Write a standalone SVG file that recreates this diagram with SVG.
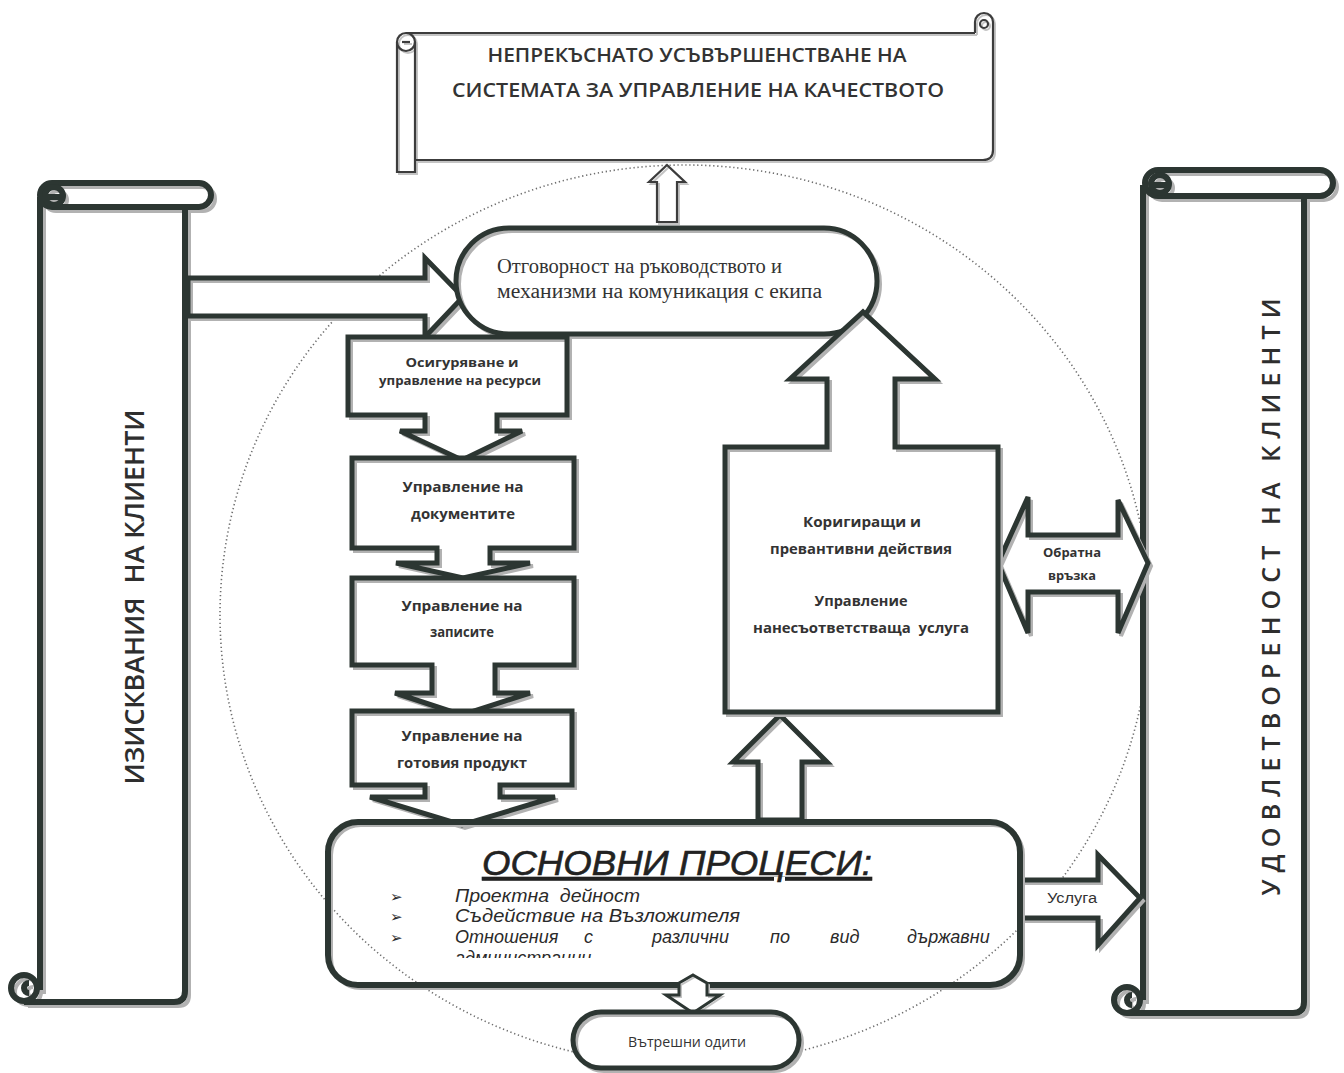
<svg xmlns="http://www.w3.org/2000/svg" width="1344" height="1073" viewBox="0 0 1344 1073">
<style>
.ln{fill:none;stroke:#2c3632;stroke-width:5;stroke-linejoin:miter}
.lnt{fill:none;stroke:#3c3c3c;stroke-width:2.2}
.sh{fill:none;stroke:#b2b2b2;stroke-width:4}
.sht{fill:none;stroke:#c4c4c4;stroke-width:2}
.fw{fill:#fff;stroke:none}
.dot{fill:none;stroke:#6e6e6e;stroke-width:1.6;stroke-dasharray:1.3 2.7}
.bx{font-family:"Open Sans","DejaVu Sans",sans-serif;font-weight:700;fill:#333;text-anchor:middle}
.hd{font-family:"Open Sans","DejaVu Sans",sans-serif;font-weight:600;fill:#333;text-anchor:middle;font-size:19px}
.sc{font-family:"Open Sans","DejaVu Sans",sans-serif;fill:#2e2e2e;text-anchor:middle}
.sf{font-family:"Liberation Serif","Times New Roman",serif;fill:#333;font-size:20px}
.it{font-family:"Liberation Sans",Arial,sans-serif;font-style:italic;fill:#2a2a2a;font-size:18px}
.bu{font-family:"DejaVu Sans",sans-serif;font-size:15px;fill:#2a2a2a}
</style>
<defs>
<clipPath id="clipLast"><rect x="330" y="826" width="690" height="132"/></clipPath>
<path id="pBox1" d="M348,337 H567 V415 H497 V431 H522 L462,460 L400,431 H425 V415 H348 Z"/>
<path id="pBox2" d="M352,458 H574 V548 H490 V563 H530 L463,578 L396,563 H437 V548 H352 Z"/>
<path id="pBox3" d="M352,578 H574 V665 H495 V693 H530 L462,715 L395,693 H432 V665 H352 Z"/>
<path id="pBox4" d="M352,711 H572 V785 H500 V797 H555 L462,825 L370,797 H425 V785 H352 Z"/>
<path id="pRight" d="M725,447 H827 V379 H790 L863,312 L935,379 H895 V447 H998 V712 H725 Z"/>
<rect id="pOval" x="456" y="228" width="421" height="106" rx="53"/>
<rect id="pMain" x="328" y="822" width="692" height="163" rx="30"/>
<rect id="pAudit" x="573" y="1012" width="226" height="56" rx="28"/>
<path id="aLeft" d="M188,278 H425 V258 L463,297 L425,337 V316 H188 Z"/>
<path id="aTop" d="M667,165 L685,182 H677 V222 H657 V182 H649 Z"/>
<path id="aDouble" d="M998,563 L1028,497 V535 H1118 V500 L1148,563 L1118,633 V592 H1028 V633 Z"/>
<path id="aUp" d="M758,820 V762 H733 L780,715 L827,762 H802 V820 Z"/>
<path id="aUsl" d="M1020,880 H1098 V855 L1140,898 L1098,945 V918 H1020 Z"/>
<path id="aDown" d="M693,975 L707,983 V995 H720 L693,1013 L666,995 H679 V983 Z"/>
<g id="gLeftScroll">
<rect x="40" y="183" width="171" height="24" rx="12"/>
<circle cx="54" cy="196" r="9"/>
<path d="M47,197 H60"/>
<path d="M40,197 V990 M185,207 V991 Q185,1002 174,1002 H24"/>
<circle cx="24" cy="988" r="13"/>
<path d="M29,983 A5,5 0 1 0 29,993"/>
</g>
<g id="gRightScroll">
<rect x="1145" y="170" width="188" height="26" rx="13"/>
<circle cx="1160" cy="184" r="9"/>
<path d="M1153,185 H1166"/>
<path d="M1143,185 V1000 M1304,196 V1002 Q1304,1013 1293,1013 H1127"/>
<circle cx="1127" cy="1000" r="13"/>
<path d="M1132,995 A5,5 0 1 0 1132,1005"/>
</g>
<g id="gTopScroll">
<path d="M406,33 H975 M993,22 V150 Q993,160 983,160 H415"/>
<path d="M975,33 V22 A9,9 0 0 1 993,22"/>
<circle cx="984" cy="24" r="4"/>
<path d="M397,42 V172 H415 V42"/>
<circle cx="406" cy="42" r="9"/>
<path d="M402,42 H410"/>
</g>
</defs>

<ellipse class="dot" cx="685" cy="615" rx="465" ry="450"/>

<g id="node-top-scroll">
<rect class="fw" x="397" y="33" width="596" height="127"/>
<use href="#gTopScroll" class="sht" transform="translate(2,2)"/>
<use href="#gTopScroll" class="lnt"/>
<text class="hd" x="697" y="62" textLength="419" lengthAdjust="spacingAndGlyphs">НЕПРЕКЪСНАТО УСЪВЪРШЕНСТВАНЕ НА</text>
<text class="hd" x="698" y="97" textLength="492" lengthAdjust="spacingAndGlyphs">СИСТЕМАТА ЗА УПРАВЛЕНИЕ НА КАЧЕСТВОТО</text>
</g>

<g id="node-left-scroll">
<rect class="fw" x="40" y="183" width="145" height="819"/>
<use href="#gLeftScroll" class="sh" transform="translate(4,4)"/>
<use href="#gLeftScroll" class="ln" style="stroke-width:6"/>
<text class="sc" xml:space="preserve" style="font-weight:600;font-size:27px" transform="translate(144,597) rotate(-90)" textLength="375" lengthAdjust="spacingAndGlyphs">ИЗИСКВАНИЯ  НА КЛИЕНТИ</text>
</g>

<g id="node-right-scroll">
<rect class="fw" x="1143" y="170" width="161" height="843"/>
<use href="#gRightScroll" class="sh" transform="translate(4,4)"/>
<use href="#gRightScroll" class="ln" style="stroke-width:6"/>
<text class="sc" style="font-weight:600;font-size:25px" transform="translate(1280,597) rotate(-90)" textLength="597" lengthAdjust="spacing">УДОВЛЕТВОРЕНОСТ НА КЛИЕНТИ</text>
</g>

<g id="connectors">
<g id="conn-left"><use href="#aLeft" class="fw"/><use href="#aLeft" class="sh" transform="translate(3,3)"/><use href="#aLeft" class="ln"/></g>
<g id="conn-top"><use href="#aTop" class="fw"/><use href="#aTop" class="sht" transform="translate(2,2)"/><use href="#aTop" class="lnt"/></g>
<g id="conn-up"><use href="#aUp" class="fw"/><use href="#aUp" class="sh" transform="translate(3,3)"/><use href="#aUp" class="ln"/></g>
<g id="conn-feedback"><use href="#aDouble" class="fw"/><use href="#aDouble" class="sh" transform="translate(3,3)"/><use href="#aDouble" class="ln"/>
<text class="bx" x="1072" y="557" style="font-size:12.5px" textLength="58" lengthAdjust="spacingAndGlyphs">Обратна</text>
<text class="bx" x="1072" y="580" style="font-size:12.5px" textLength="48" lengthAdjust="spacingAndGlyphs">връзка</text></g>
<g id="conn-service"><use href="#aUsl" class="fw"/><use href="#aUsl" class="sh" transform="translate(3,3)"/><use href="#aUsl" class="ln"/>
<text x="1072" y="903" style="font-family:'Liberation Sans',Arial,sans-serif;font-size:14px;fill:#333;text-anchor:middle" textLength="50" lengthAdjust="spacingAndGlyphs">Услуга</text></g>
</g>

<g id="node-oval">
<use href="#pOval" class="fw"/><use href="#pOval" class="sh" transform="translate(3,3)"/><use href="#pOval" class="ln"/>
<text class="sf" x="497" y="273" textLength="285" lengthAdjust="spacingAndGlyphs">Отговорност на ръководството и</text>
<text class="sf" x="497" y="298" textLength="325" lengthAdjust="spacingAndGlyphs">механизми на комуникация с екипа</text>
</g>

<g id="node-resources">
<use href="#pBox1" class="fw"/><use href="#pBox1" class="sh" transform="translate(3,3)"/><use href="#pBox1" class="ln"/>
<text class="bx" x="462" y="367" style="font-size:13px" textLength="113" lengthAdjust="spacingAndGlyphs">Осигуряване и</text>
<text class="bx" x="460" y="385" style="font-size:13px" textLength="162" lengthAdjust="spacingAndGlyphs">управление на ресурси</text>
</g>

<g id="node-documents">
<use href="#pBox2" class="fw"/><use href="#pBox2" class="sh" transform="translate(3,3)"/><use href="#pBox2" class="ln"/>
<text class="bx" x="463" y="492" style="font-size:15px" textLength="121" lengthAdjust="spacingAndGlyphs">Управление на</text>
<text class="bx" x="463" y="519" style="font-size:15px" textLength="104" lengthAdjust="spacingAndGlyphs">документите</text>
</g>

<g id="node-records">
<use href="#pBox3" class="fw"/><use href="#pBox3" class="sh" transform="translate(3,3)"/><use href="#pBox3" class="ln"/>
<text class="bx" x="462" y="611" style="font-size:15px" textLength="121" lengthAdjust="spacingAndGlyphs">Управление на</text>
<text class="bx" x="462" y="637" style="font-size:15px" textLength="64" lengthAdjust="spacingAndGlyphs">записите</text>
</g>

<g id="node-product">
<use href="#pBox4" class="fw"/><use href="#pBox4" class="sh" transform="translate(3,3)"/><use href="#pBox4" class="ln"/>
<text class="bx" x="462" y="741" style="font-size:15px" textLength="121" lengthAdjust="spacingAndGlyphs">Управление на</text>
<text class="bx" x="462" y="768" style="font-size:15px" textLength="130" lengthAdjust="spacingAndGlyphs">готовия продукт</text>
</g>

<g id="node-corrective">
<use href="#pRight" class="fw"/><use href="#pRight" class="sh" transform="translate(3,3)"/><use href="#pRight" class="ln"/>
<text class="bx" x="862" y="527" style="font-size:15px" textLength="118" lengthAdjust="spacingAndGlyphs">Коригиращи и</text>
<text class="bx" x="861" y="554" style="font-size:15px" textLength="182" lengthAdjust="spacingAndGlyphs">превантивни действия</text>
<text class="bx" x="861" y="606" style="font-size:15px" textLength="93" lengthAdjust="spacingAndGlyphs">Управление</text>
<text class="bx" x="861" y="633" xml:space="preserve" style="font-size:15px" textLength="216" lengthAdjust="spacingAndGlyphs">нанесъответстваща  услуга</text>
</g>

<g id="node-main">
<use href="#pMain" class="sh" transform="translate(3,3)"/><use href="#pMain" class="ln" style="stroke-width:6"/>
<text x="677" y="875" text-decoration="underline" style="font-family:'Liberation Sans',Arial,sans-serif;font-style:italic;font-size:35px;fill:#222;stroke:#222;stroke-width:0.6;text-anchor:middle" textLength="390" lengthAdjust="spacingAndGlyphs">ОСНОВНИ ПРОЦЕСИ:</text>
<text class="bu" x="390" y="902">➢</text>
<text class="bu" x="390" y="922">➢</text>
<text class="bu" x="390" y="943">➢</text>
<text class="it" x="455" y="902" xml:space="preserve" textLength="185" lengthAdjust="spacingAndGlyphs">Проектна  дейност</text>
<text class="it" x="455" y="922" textLength="285" lengthAdjust="spacingAndGlyphs">Съдействие на Възложителя</text>
<text class="it" y="943"><tspan x="455">Отношения</tspan><tspan x="584">с</tspan><tspan x="652">различни</tspan><tspan x="770">по</tspan><tspan x="830">вид</tspan><tspan x="907">държавни</tspan></text>
<text class="it" x="455" y="964" clip-path="url(#clipLast)">администрации</text>
</g>

<g id="conn-audit"><use href="#aDown" class="fw"/><use href="#aDown" class="sht" transform="translate(2,2)"/><use href="#aDown" class="ln" style="stroke-width:3"/></g>

<g id="node-audit">
<use href="#pAudit" class="fw"/><use href="#pAudit" class="sh" transform="translate(3,3)"/><use href="#pAudit" class="ln"/>
<text x="687" y="1047" style="font-family:'Open Sans','DejaVu Sans',sans-serif;font-size:14px;fill:#333;text-anchor:middle" textLength="118" lengthAdjust="spacingAndGlyphs">Вътрешни одити</text>
</g>
</svg>
